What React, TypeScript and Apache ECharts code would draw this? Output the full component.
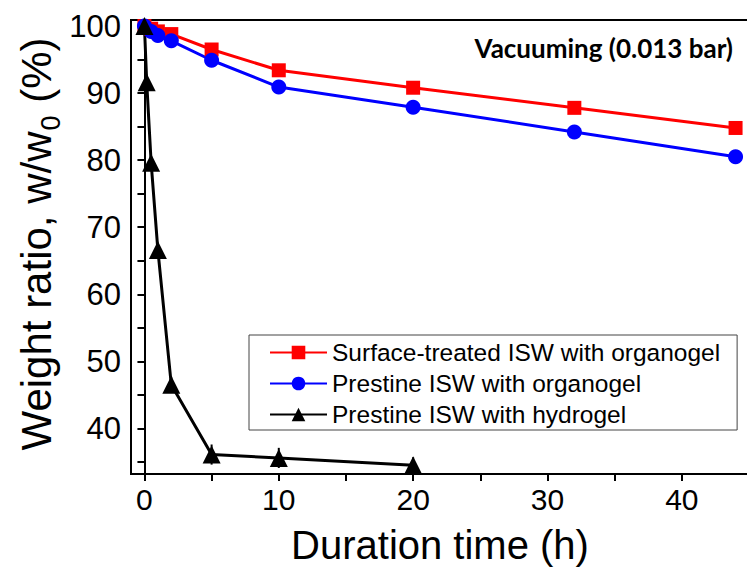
import React, { useEffect, useRef } from "react";
import * as echarts from "echarts";

const xOrgano = [0, 0.5, 1, 2, 5, 10, 20, 32, 44];
const surfaceTreated = [100, 99.6, 99.2, 98.8, 96.5, 93.4, 90.8, 87.8, 84.8];
const prestineOrgano = [100, 99.2, 98.6, 97.8, 94.9, 90.9, 87.9, 84.2, 80.5];
const xHydro = [0, 0.17, 0.5, 1, 2, 5, 10, 20];
const prestineHydro = [100, 91.6, 79.6, 66.6, 46.5, 36.1, 35.6, 34.5];
const hydroErr = [0, 0.8, 0.8, 0.8, 1.2, 1.5, 1.5, 1.2];

const seriesNames = [
  "Surface-treated ISW with organogel",
  "Prestine ISW with organogel",
  "Prestine ISW with hydrogel",
];
const xLabelValues = [0, 10, 20, 30, 40];
const xTickValues = [0, 5, 10, 15, 20, 25, 30, 35, 40];
const yLabelValues = [40, 50, 60, 70, 80, 90, 100];
const yTickValues = [35, 40, 45, 50, 55, 60, 65, 70, 75, 80, 85, 90, 95, 100];

const FONT = "'Liberation Sans', Arial, sans-serif";

export default function App() {
  const ref = useRef<HTMLDivElement>(null);
  useEffect(() => {
    if (!ref.current) return;
    const chart = echarts.init(ref.current, null, { renderer: "svg" });
    const pair = (xs: number[], ys: number[]) => xs.map((x, i) => [x, ys[i]]);
    chart.setOption({
      animation: false,
      backgroundColor: "#fff",
      textStyle: { fontFamily: FONT },
      grid: {
        left: 131,
        top: 20,
        right: -2,
        bottom: 94,
        show: true,
        borderColor: "#000",
        borderWidth: 2,
        outerBoundsMode: "none",
      },
      xAxis: {
        type: "value",
        min: -1,
        max: 45,
        splitLine: { show: false },
        axisLine: { lineStyle: { color: "#000", width: 2 } },
        axisTick: { customValues: xTickValues, length: 7, lineStyle: { color: "#000", width: 2 } },
        axisLabel: {
          customValues: xLabelValues,
          fontSize: 30,
          color: "#000",
          fontFamily: FONT,
          margin: 10,
        },
      },
      yAxis: {
        type: "value",
        min: 33.2,
        max: 100.9,
        splitLine: { show: false },
        axisLine: { lineStyle: { color: "#000", width: 2 } },
        axisTick: { customValues: yTickValues, length: 7, lineStyle: { color: "#000", width: 2 } },
        axisLabel: {
          customValues: yLabelValues,
          fontSize: 31,
          color: "#000",
          fontFamily: FONT,
          margin: 10,
        },
      },
      legend: {
        orient: "vertical",
        left: 249,
        top: 335,
        padding: [5, 17, 3, 20],
        borderColor: "#444",
        borderWidth: 1,
        itemWidth: 57,
        itemHeight: 17,
        itemGap: 6,
        data: seriesNames,
        textStyle: { fontSize: 24.5, color: "#000", fontFamily: FONT },
      },
      graphic: [
        {
          type: "text",
          x: 733,
          y: 48,
          style: {
            text: "Vacuuming (0.013 bar)",
            font: "bold 26px Lato, 'Open Sans', sans-serif",
            fill: "#000",
            align: "right",
            verticalAlign: "middle",
          },
        },
        {
          type: "text",
          x: 440,
          y: 545,
          style: {
            text: "Duration time (h)",
            font: `40px ${FONT}`,
            fill: "#000",
            align: "center",
            verticalAlign: "middle",
          },
        },
        {
          type: "text",
          x: 36,
          y: 244,
          rotation: Math.PI / 2,
          style: {
            text: "Weight ratio, w/w{sub|0} (%)",
            font: `42px ${FONT}`,
            fill: "#000",
            align: "center",
            verticalAlign: "middle",
            rich: {
              sub: {
                fontSize: 27,
                fontFamily: FONT,
                fill: "#000",
                padding: [30, 1, 0, 1],
              },
            },
          },
        },
      ],
      series: [
        {
          name: seriesNames[0],
          type: "line",
          data: pair(xOrgano, surfaceTreated),
          symbol: "rect",
          symbolSize: 14,
          itemStyle: { color: "#ff0000" },
          lineStyle: { color: "#ff0000", width: 3 },
        },
        {
          name: seriesNames[1],
          type: "line",
          data: pair(xOrgano, prestineOrgano),
          symbol: "circle",
          symbolSize: 15,
          itemStyle: { color: "#0000ff" },
          lineStyle: { color: "#0000ff", width: 3 },
        },
        {
          name: "err",
          type: "custom",
          data: xHydro.map((x, i) => [x, prestineHydro[i], hydroErr[i]]),
          renderItem: (params: any, api: any) => {
            const x = api.value(0);
            const y = api.value(1);
            const e = api.value(2);
            const a = api.coord([x, y + e]);
            const b = api.coord([x, y - e]);
            return {
              type: "line",
              shape: { x1: a[0], y1: a[1], x2: b[0], y2: b[1] },
              style: { stroke: "#000", lineWidth: 2 },
            };
          },
          z: 3,
        },
        {
          name: seriesNames[2],
          type: "line",
          data: pair(xHydro, prestineHydro),
          symbol: "triangle",
          symbolSize: 18,
          itemStyle: { color: "#000" },
          lineStyle: { color: "#000", width: 3 },
        },
      ],
    });
    return () => chart.dispose();
  }, []);
  return (
    <div
      ref={ref}
      style={{ position: "fixed", left: 0, top: 0, width: 747, height: 568, background: "#fff" }}
    />
  );
}
